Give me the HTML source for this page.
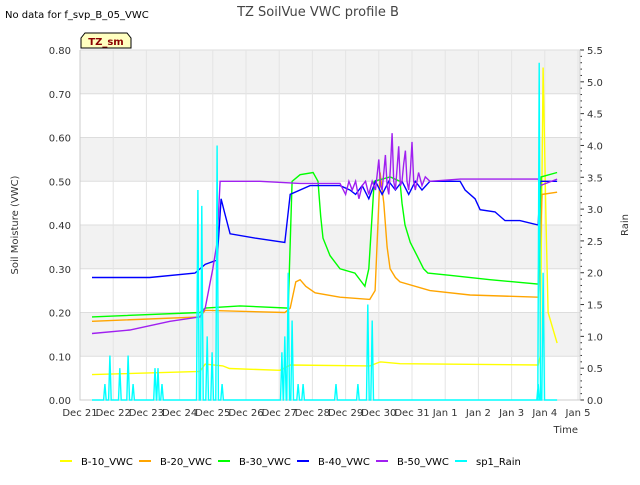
<!DOCTYPE html>
<html><head><meta charset="utf-8"><style>
body{margin:0;background:#fff;font-family:"Liberation Sans","DejaVu Sans",sans-serif}
svg text{font-family:"DejaVu Sans","Liberation Sans",sans-serif}
</style></head><body>
<svg id="c" width="640" height="480" viewBox="0 0 640 480">
<text x="5" y="18" font-size="10" fill="#000">No data for f_svp_B_05_VWC</text>
<text x="318" y="16" font-size="13" fill="#444" text-anchor="middle">TZ SoilVue VWC profile B</text>
<g id="plot"></g>
<g>
<path d="M81,48 L81,38 L85,33 L127,33 L131,38 L131,48 Z" fill="#ffffc0" stroke="#000" stroke-width="1"/>
<text x="106" y="45" font-size="10" font-weight="bold" fill="#8b0000" text-anchor="middle">TZ_sm</text>
</g>
<text x="18" y="225" font-size="10" fill="#333" text-anchor="middle" transform="rotate(-90 18 225)">Soil Moisture (VWC)</text>
<text x="628" y="225" font-size="10" fill="#333" text-anchor="middle" transform="rotate(-90 628 225)">Rain</text>
<text x="578" y="433" font-size="10" fill="#333" text-anchor="end">Time</text>
<g id="legend"></g>
</svg>
<script>
const xTicks=["Dec 21","Dec 22","Dec 23","Dec 24","Dec 25","Dec 26","Dec 27","Dec 28","Dec 29","Dec 30","Dec 31","Jan 1","Jan 2","Jan 3","Jan 4","Jan 5"];
const yTicks=[0,0.1,0.2,0.3,0.4,0.5,0.6,0.7,0.8];
const y2Ticks=[0,0.5,1,1.5,2,2.5,3,3.5,4,4.5,5,5.5];
const b10=[[0.36,0.058],[3.5,0.065],[3.61,0.065],[3.77,0.082],[4.3,0.078],[4.5,0.072],[6.02,0.068],[6.33,0.08],[8.73,0.078],[9.04,0.087],[9.64,0.083],[13.8,0.08],[13.86,0.1],[13.95,0.76],[14.04,0.4],[14.1,0.2],[14.37,0.13]];
const b20=[[0.36,0.18],[3.61,0.19],[3.77,0.205],[6.17,0.2],[6.33,0.21],[6.5,0.27],[6.63,0.275],[6.8,0.26],[7.08,0.245],[7.83,0.235],[8.73,0.23],[8.89,0.25],[9.04,0.52],[9.15,0.45],[9.25,0.35],[9.34,0.3],[9.5,0.28],[9.64,0.27],[10.54,0.25],[11.75,0.24],[13.8,0.235],[13.92,0.47],[14.37,0.475]];
const b30=[[0.36,0.19],[3.61,0.2],[3.77,0.21],[4.82,0.215],[6.27,0.21],[6.39,0.5],[6.63,0.515],[7.02,0.52],[7.17,0.5],[7.25,0.42],[7.32,0.37],[7.53,0.33],[7.83,0.3],[8.28,0.29],[8.58,0.26],[8.7,0.3],[8.86,0.5],[9.34,0.51],[9.64,0.5],[9.7,0.45],[9.79,0.4],[9.95,0.36],[10.15,0.33],[10.35,0.3],[10.48,0.29],[11.14,0.285],[12.35,0.275],[13.8,0.265],[13.89,0.51],[14.37,0.52]];
const b40=[[0.36,0.28],[2.1,0.28],[3.46,0.29],[3.77,0.31],[4.13,0.32],[4.25,0.46],[4.35,0.43],[4.52,0.38],[5.27,0.37],[6.17,0.36],[6.33,0.47],[6.93,0.49],[7.83,0.49],[8.13,0.48],[8.3,0.47],[8.5,0.49],[8.7,0.46],[8.9,0.5],[9.1,0.47],[9.3,0.5],[9.5,0.48],[9.7,0.5],[9.9,0.47],[10.1,0.5],[10.3,0.48],[10.54,0.5],[11.45,0.5],[11.6,0.48],[11.9,0.46],[12.05,0.435],[12.5,0.43],[12.8,0.41],[13.25,0.41],[13.8,0.4],[13.86,0.5],[14.37,0.5]];
const b50=[[0.36,0.152],[1.5,0.16],[2.71,0.18],[3.61,0.19],[3.77,0.21],[4.0,0.3],[4.13,0.36],[4.22,0.5],[5.42,0.5],[6.63,0.495],[7.83,0.495],[8.0,0.47],[8.1,0.5],[8.2,0.48],[8.3,0.5],[8.4,0.46],[8.5,0.49],[8.6,0.5],[8.7,0.47],[8.8,0.5],[8.9,0.48],[9.0,0.55],[9.05,0.49],[9.1,0.48],[9.15,0.52],[9.2,0.56],[9.25,0.49],[9.3,0.47],[9.35,0.53],[9.4,0.61],[9.45,0.5],[9.5,0.48],[9.55,0.53],[9.6,0.58],[9.65,0.49],[9.7,0.5],[9.75,0.54],[9.8,0.57],[9.85,0.5],[9.9,0.48],[9.95,0.52],[10.0,0.59],[10.05,0.5],[10.1,0.48],[10.2,0.52],[10.3,0.49],[10.4,0.51],[10.54,0.5],[11.45,0.505],[13.8,0.505],[13.86,0.49],[14.37,0.505]];
const rainDays=[0.75,0.9,1.2,1.45,1.6,2.26,2.35,2.47,3.55,3.67,3.83,3.98,4.13,4.28,6.08,6.17,6.27,6.39,6.57,6.72,7.71,8.37,8.67,8.8,13.8,13.83,13.95];
const rainVals=[0.25,0.7,0.5,0.7,0.25,0.5,0.5,0.25,3.3,3.05,1.0,0.75,4.0,0.25,0.75,1.0,2.0,1.25,0.25,0.25,0.25,0.25,1.5,1.25,0.25,5.3,2.0];
const X0=80,X1=578,Y0=400,Y1=50,PR=580;
const xs=d=>X0+d*(X1-X0)/15, ys=v=>Y0-v*(Y0-Y1)/0.8, ys2=v=>Y0-v*(Y0-Y1)/5.5;
const NS="http://www.w3.org/2000/svg";
const plot=document.getElementById('plot');
function mk(t,a,p){const e=document.createElementNS(NS,t);for(const k in a)e.setAttribute(k,a[k]);(p||plot).appendChild(e);return e;}
for(let i=1;i<8;i+=2){const r=mk('rect',{x:X0,y:ys(yTicks[i+1]),width:PR-X0,height:ys(yTicks[i])-ys(yTicks[i+1]),fill:'#f2f2f2'});

}
yTicks.forEach(v=>{const l=mk('line',{x1:X0,x2:PR,y1:ys(v),y2:ys(v),stroke:'#ddd','stroke-width':1});


const t=mk('text',{x:71,y:ys(v)+4,'font-size':10,fill:'#333','text-anchor':'end'});t.textContent=v.toFixed(2);

});
xTicks.forEach((s,i)=>{const l=mk('line',{x1:xs(i),x2:xs(i),y1:Y1,y2:Y0,stroke:'#e4e4e4','stroke-width':1});


const t=mk('text',{x:xs(i),y:416,'font-size':10,fill:'#333','text-anchor':'middle'});t.textContent=s;

});
for(let v=0;v<=5.5001;v+=0.1){const major=Math.abs(v*2-Math.round(v*2))<0.01;const l=mk('line',{x1:PR,x2:PR+(major?4:2),y1:ys2(v),y2:ys2(v),stroke:'#333','stroke-width':1});

}
y2Ticks.forEach(v=>{const t=mk('text',{x:587,y:ys2(v)+4,'font-size':10,fill:'#333'});t.textContent=v.toFixed(1);

});
const ax=mk('path',{d:`M${X0},${Y1}V${Y0}H${PR}V${Y1}`,fill:'none',stroke:'#ccc'});


function line(data,color,name,yf){const p=mk('polyline',{points:data.map(d=>xs(d[0]).toFixed(1)+','+yf(d[1]).toFixed(1)).join(' '),fill:'none',stroke:color,'stroke-width':1.4});

}
line(b10,'#ffff00','series-b10-vwc',ys);
line(b20,'#ffa500','series-b20-vwc',ys);
line(b30,'#00ff00','series-b30-vwc',ys);
line(b40,'#0000ff','series-b40-vwc',ys);
line(b50,'#a020f0','series-b50-vwc',ys);
const rain=[[0.36,0]];rainDays.forEach((d,i)=>{rain.push([d-0.04,0],[d,rainVals[i]],[d+0.04,0]);});rain.push([14.37,0]);
line(rain,'#00ffff','series-sp1-rain',ys2);
const leg=document.getElementById('legend');
const items=[["B-10_VWC","#ffff00"],["B-20_VWC","#ffa500"],["B-30_VWC","#00ff00"],["B-40_VWC","#0000ff"],["B-50_VWC","#a020f0"],["sp1_Rain","#00ffff"]];
items.forEach((it,i)=>{const x=60+i*79;const g=mk('g',{},leg);


mk('line',{x1:x,x2:x+12,y1:461,y2:461,stroke:it[1],'stroke-width':2},g);
const t=mk('text',{x:x+21,y:465,'font-size':10,fill:'#000'},g);t.textContent=it[0];});
</script>
</body></html>
